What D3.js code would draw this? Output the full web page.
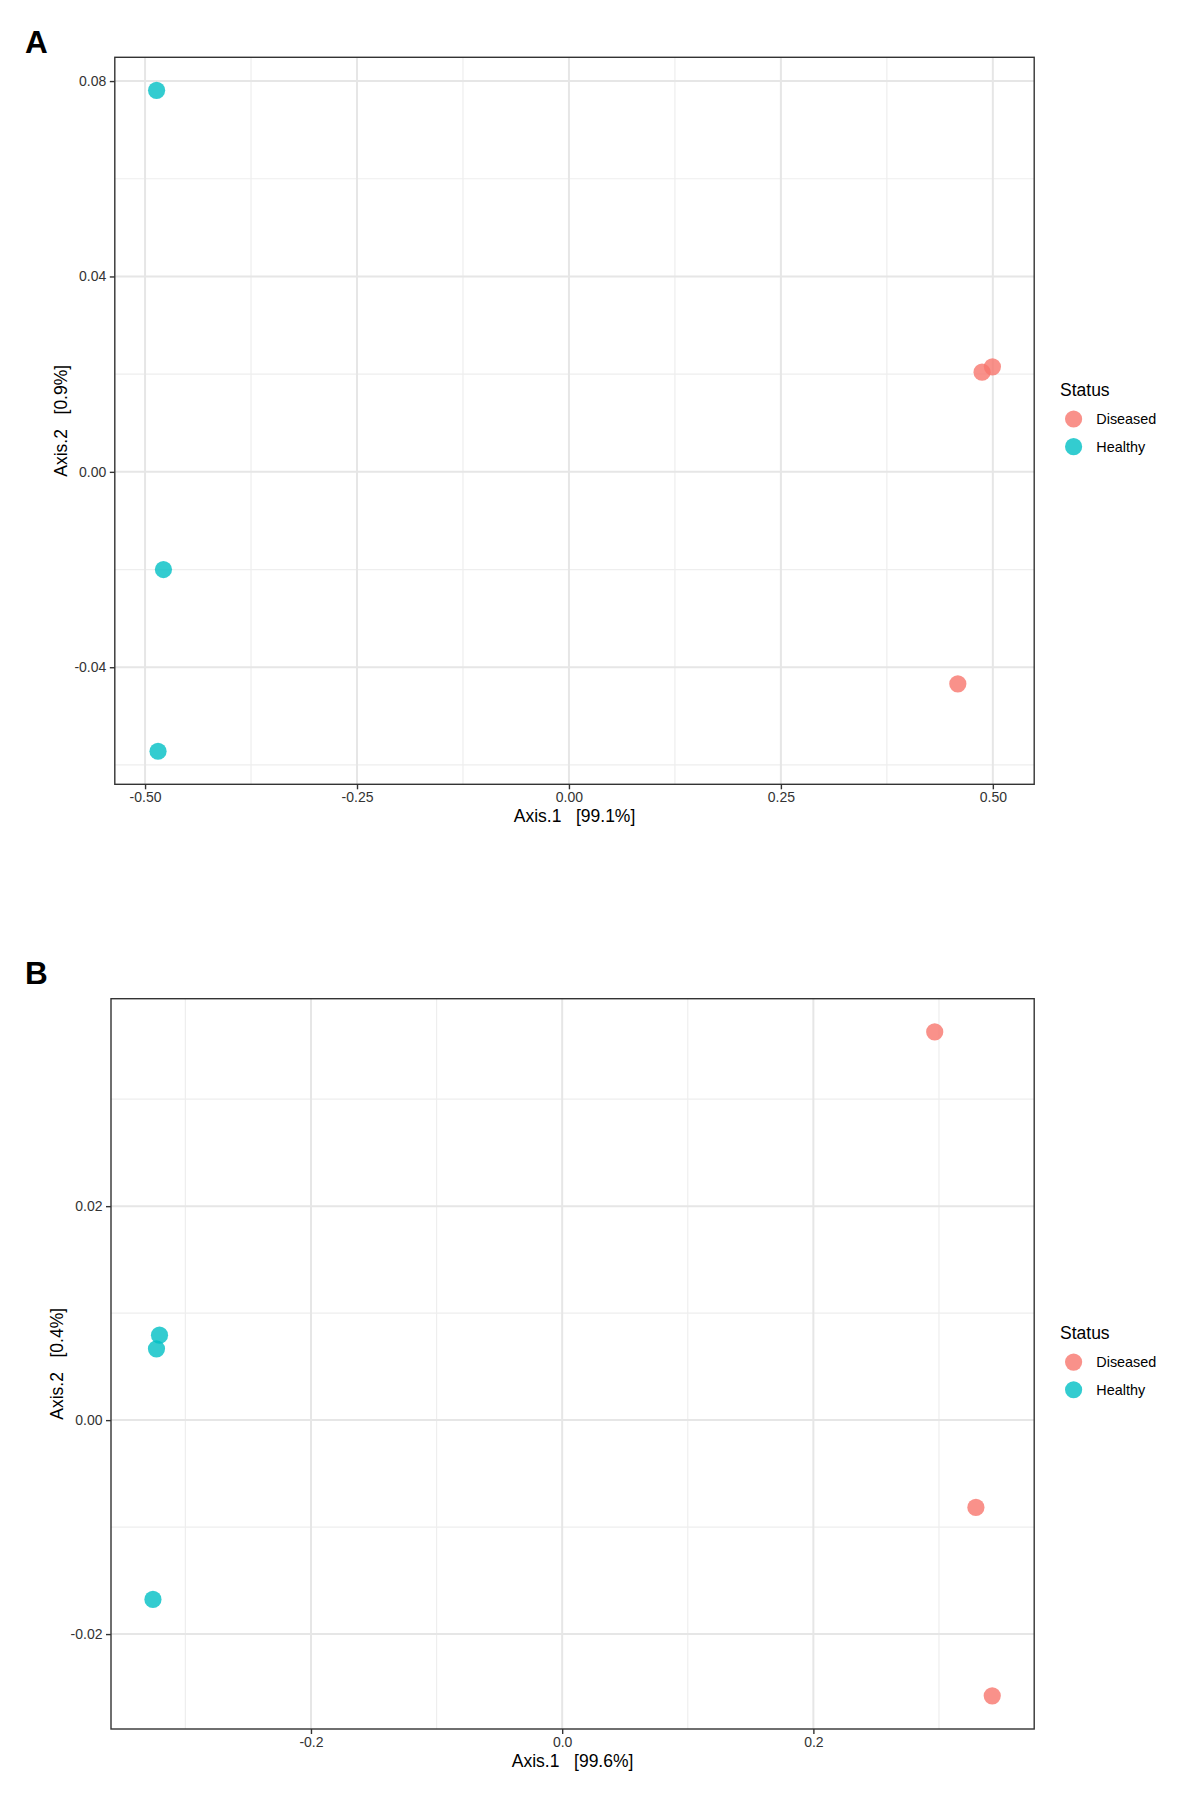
<!DOCTYPE html>
<html>
<head>
<meta charset="utf-8">
<script src="https://cdn.jsdelivr.net/npm/d3@7"></script>
<style>
  body { margin: 0; background: #fff; }
  text { font-family: "Liberation Sans", Arial, sans-serif; }
</style>
</head>
<body>
<div id="chart"></div>
<script>
// legend levels and colours (ggplot defaults)
const statusLevels = ["Diseased", "Healthy"];
const statusColors = ["#F8766D", "#00BFC4"];

// panel A: PCoA, six samples
const panelAStatus = ["Healthy", "Healthy", "Healthy", "Diseased", "Diseased", "Diseased"];
const panelAAxis1 = [-0.4864, -0.4783, -0.4847, 0.4873, 0.4995, 0.4587];
const panelAAxis2 = [0.0781, -0.0200, -0.0572, 0.0204, 0.0215, -0.0434];
const panelAXTicks = [-0.50, -0.25, 0.00, 0.25, 0.50];
const panelAXLabels = ["-0.50", "-0.25", "0.00", "0.25", "0.50"];
const panelAYTicks = [-0.04, 0.00, 0.04, 0.08];
const panelAYLabels = ["-0.04", "0.00", "0.04", "0.08"];

// panel B
const panelBStatus = ["Healthy", "Healthy", "Healthy", "Diseased", "Diseased", "Diseased"];
const panelBAxis1 = [-0.3206, -0.3230, -0.3258, 0.2966, 0.3294, 0.3424];
const panelBAxis2 = [0.00794, 0.00666, -0.01676, 0.03629, -0.00816, -0.02577];
const panelBXTicks = [-0.2, 0.0, 0.2];
const panelBXLabels = ["-0.2", "0.0", "0.2"];
const panelBYTicks = [-0.02, 0.00, 0.02];
const panelBYLabels = ["-0.02", "0.00", "0.02"];

const W = 1183, H = 1796;
const svg = d3.select("#chart").append("svg")
  .attr("width", W).attr("height", H)
  .style("display", "block");

const color = d3.scaleOrdinal().domain(statusLevels).range(statusColors);

// ggplot style 5% expansion
function expand(vals) {
  const [lo, hi] = d3.extent(vals);
  const pad = (hi - lo) * 0.05;
  return [lo - pad, hi + pad];
}

// midpoints between major ticks, plus one beyond each end
function minors(ticks, domain) {
  const step = ticks[1] - ticks[0];
  const out = [];
  for (let i = -1; i < ticks.length; i++) {
    const v = ticks[0] + step * (i + 0.5);
    if (v > domain[0] && v < domain[1]) out.push(v);
  }
  return out;
}

function drawPanel(cfg) {
  const { box, status, ax1, ax2, xTicks, xLabels, yTicks, yLabels } = cfg;
  const g = svg.append("g");

  const xDom = expand(ax1), yDom = expand(ax2);
  const x = d3.scaleLinear().domain(xDom).range([box.left, box.right]);
  const y = d3.scaleLinear().domain(yDom).range([box.bottom, box.top]);

  // minor grid
  g.append("g").selectAll("line")
    .data(minors(xTicks, xDom)).enter().append("line")
    .attr("x1", d => x(d)).attr("x2", d => x(d))
    .attr("y1", box.top).attr("y2", box.bottom)
    .attr("stroke", "#EEEEEE").attr("stroke-width", 1.2);
  g.append("g").selectAll("line")
    .data(minors(yTicks, yDom)).enter().append("line")
    .attr("y1", d => y(d)).attr("y2", d => y(d))
    .attr("x1", box.left).attr("x2", box.right)
    .attr("stroke", "#EEEEEE").attr("stroke-width", 1.2);

  // major grid
  g.append("g").selectAll("line")
    .data(xTicks).enter().append("line")
    .attr("x1", d => x(d)).attr("x2", d => x(d))
    .attr("y1", box.top).attr("y2", box.bottom)
    .attr("stroke", "#E6E6E6").attr("stroke-width", 2);
  g.append("g").selectAll("line")
    .data(yTicks).enter().append("line")
    .attr("y1", d => y(d)).attr("y2", d => y(d))
    .attr("x1", box.left).attr("x2", box.right)
    .attr("stroke", "#E6E6E6").attr("stroke-width", 2);

  // points
  g.append("g").selectAll("circle")
    .data(d3.range(ax1.length)).enter().append("circle")
    .attr("cx", i => x(ax1[i]))
    .attr("cy", i => y(ax2[i]))
    .attr("r", 8.6)
    .attr("fill", i => color(status[i]))
    .attr("fill-opacity", 0.8);

  // border
  g.append("rect")
    .attr("x", box.left).attr("y", box.top)
    .attr("width", box.right - box.left).attr("height", box.bottom - box.top)
    .attr("fill", "none").attr("stroke", "#333").attr("stroke-width", 1.4);

  // axes
  const xAxis = g.append("g")
    .attr("transform", "translate(0," + box.bottom + ")")
    .call(d3.axisBottom(x).tickValues(xTicks)
      .tickFormat((d, i) => xLabels[i]).tickSize(5).tickPadding(2.6));
  const yAxis = g.append("g")
    .attr("transform", "translate(" + box.left + ",0)")
    .call(d3.axisLeft(y).tickValues(yTicks)
      .tickFormat((d, i) => yLabels[i]).tickSize(5).tickPadding(3.5));
  [xAxis, yAxis].forEach(a => {
    a.select(".domain").remove();
    a.selectAll("line").attr("stroke", "#333").attr("stroke-width", 1.4);
    a.selectAll("text").attr("fill", "#333")
      .style("font-size", "14px")
      .style("font-family", "'Liberation Sans', Arial, sans-serif");
  });

  // axis titles
  g.append("text")
    .attr("x", (box.left + box.right) / 2)
    .attr("y", box.bottom + 38)
    .attr("text-anchor", "middle")
    .style("font-size", "17.5px")
    .style("white-space", "pre")
    .text(cfg.xTitle);
  g.append("text")
    .attr("transform", "translate(" + (box.left - 48) + "," + ((box.top + box.bottom) / 2) + ")rotate(-90)")
    .attr("text-anchor", "middle")
    .style("font-size", "17.5px")
    .style("white-space", "pre")
    .text(cfg.yTitle);

  // panel tag
  g.append("text")
    .attr("x", 25)
    .attr("y", cfg.tagY)
    .style("font-size", "31.5px")
    .style("font-weight", "bold")
    .text(cfg.tag);

  // legend
  const cy = (box.top + box.bottom) / 2;
  const lg = g.append("g").attr("transform", "translate(1060," + cy + ")");
  lg.append("text")
    .attr("x", 0).attr("y", -24.8)
    .style("font-size", "17.5px")
    .text("Status");
  const item = lg.selectAll(".item")
    .data(statusLevels).enter().append("g")
    .attr("transform", (d, i) => "translate(0," + (-1.8 + i * 27.7) + ")");
  item.append("circle")
    .attr("cx", 13.6).attr("cy", 0).attr("r", 8.6)
    .attr("fill", d => color(d)).attr("fill-opacity", 0.8);
  item.append("text")
    .attr("x", 36.3).attr("y", 5)
    .style("font-size", "14.4px")
    .text(d => d);
}

drawPanel({
  tag: "A", tagY: 52.7,
  box: { left: 114.8, top: 57.3, right: 1034.2, bottom: 784.3 },
  status: panelAStatus, ax1: panelAAxis1, ax2: panelAAxis2,
  xTicks: panelAXTicks, xLabels: panelAXLabels,
  yTicks: panelAYTicks, yLabels: panelAYLabels,
  xTitle: "Axis.1   [99.1%]", yTitle: "Axis.2   [0.9%]"
});

drawPanel({
  tag: "B", tagY: 984,
  box: { left: 111, top: 998.7, right: 1034.2, bottom: 1729 },
  status: panelBStatus, ax1: panelBAxis1, ax2: panelBAxis2,
  xTicks: panelBXTicks, xLabels: panelBXLabels,
  yTicks: panelBYTicks, yLabels: panelBYLabels,
  xTitle: "Axis.1   [99.6%]", yTitle: "Axis.2   [0.4%]"
});
</script>
</body>
</html>
